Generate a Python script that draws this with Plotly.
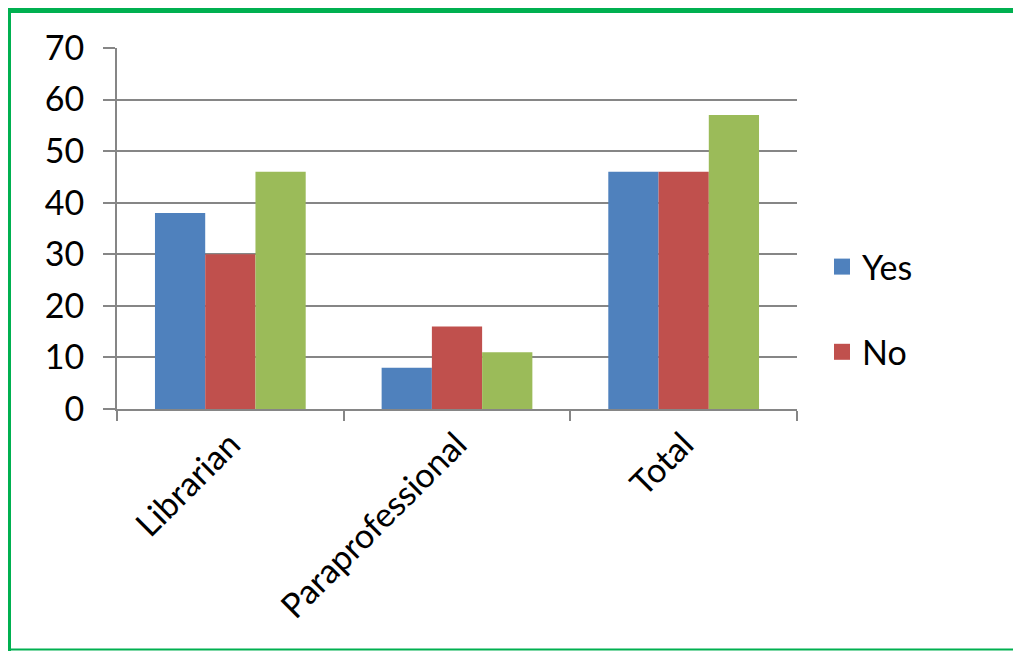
import plotly.graph_objects as go

categories = ["Librarian", "Paraprofessional", "Total"]
series_names = ["Yes", "No", "Total"]
yes_vals = [38, 8, 46]
no_vals = [30, 16, 46]
other_vals = [46, 11, 57]
y_ticks = [0, 10, 20, 30, 40, 50, 60, 70]
colors = ["#4F81BD", "#C0504D", "#9BBB59"]

# page has an 8px body margin; work in screenshot pixels
OFF = 8
W, H = 1013, 643
L, R, T, B = 109, 224, 40, 242
pw, ph = W - L - R, H - T - B

def px_x(sx):
    return (sx - OFF - L) / pw

def px_y(sy):
    return (H - B - (sy - OFF)) / ph

font_family = "Lato, 'Open Sans', Arial, sans-serif"
FS = 34

fig = go.Figure()
for name, vals, col in zip(series_names, [yes_vals, no_vals, other_vals], colors):
    fig.add_trace(go.Bar(x=categories, y=vals, name=name, marker_color=col,
                         marker_line_width=0, showlegend=False))

# legend entries (only Yes and No appear in the original legend)
for i, (name, col) in enumerate(zip(series_names[:2], colors[:2])):
    fig.add_trace(go.Scatter(x=[None], y=[None], mode="markers", name=name,
                             legendgroup=name,
                             marker=dict(symbol="square", size=20, color=col)))

fig.update_layout(
    width=W, height=H,
    margin=dict(l=L, r=R, t=T, b=B, pad=0),
    paper_bgcolor="white", plot_bgcolor="white",
    barmode="group", bargap=0.335, bargroupgap=0,
    font=dict(family=font_family, size=FS, color="black"),
    showlegend=True,
    legend=dict(x=px_x(822), y=px_y(238), xanchor="left", yanchor="top",
                font=dict(size=FS), traceorder="grouped",
                tracegroupgap=38, itemwidth=30, bgcolor="rgba(0,0,0,0)"),
    xaxis=dict(showgrid=False, showline=True, linecolor="#868686", linewidth=2,
               ticks="outside", tickson="boundaries", ticklen=10, tickcolor="#868686",
               tickwidth=2, tickangle=-45, tickfont=dict(size=FS)),
    yaxis=dict(range=[0, 70], tickvals=y_ticks, showgrid=True, gridcolor="#868686",
               gridwidth=2, showline=True, linecolor="#868686", linewidth=2,
               ticks="outside", ticklen=12, tickcolor="#868686", tickwidth=2,
               tickfont=dict(size=FS), zeroline=False, ticklabelstandoff=12),
)

border = "#00B050"
fig.add_shape(type="line", xref="paper", yref="paper",
              x0=px_x(8), x1=px_x(1030), y0=px_y(10.5), y1=px_y(10.5),
              line=dict(color=border, width=5))
fig.add_shape(type="line", xref="paper", yref="paper",
              x0=px_x(9.5), x1=px_x(9.5), y0=px_y(8), y1=px_y(651),
              line=dict(color=border, width=3))
fig.add_shape(type="line", xref="paper", yref="paper",
              x0=px_x(8), x1=px_x(1030), y0=px_y(649.5), y1=px_y(649.5),
              line=dict(color=border, width=2))

fig.write_html("out.html")
